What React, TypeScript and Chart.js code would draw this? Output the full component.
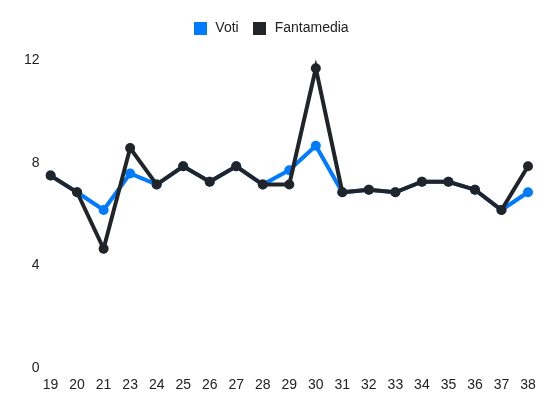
import React, { useEffect, useRef } from "react";
import { Chart, registerables } from "chart.js";

Chart.register(...registerables);

const giornate = ["19", "20", "21", "23", "24", "25", "26", "27", "28", "29", "30", "31", "32", "33", "34", "35", "36", "37", "38"];
const voti = [7.5, 6.85, 6.16, 7.58, 7.15, 7.86, 7.26, 7.86, 7.15, 7.71, 8.66, 6.85, 6.95, 6.85, 7.26, 7.26, 6.95, 6.16, 6.85];
const fantamedia = [7.5, 6.85, 4.65, 8.57, 7.15, 7.86, 7.26, 7.86, 7.15, 7.15, 11.68, 6.85, 6.95, 6.85, 7.26, 7.26, 6.95, 6.16, 7.86];
const yTicks = [0, 4, 8, 12];

const BLUE = "#007bff";
const DARK = "#212529";
const FONT = "'Liberation Sans', Arial, sans-serif";

function swatch(color: string) {
  const c = document.createElement("canvas");
  c.width = 13;
  c.height = 13;
  const ctx = c.getContext("2d");
  if (ctx) {
    ctx.fillStyle = color;
    ctx.fillRect(0, 0, 13, 13);
  }
  return c;
}

const legendMargin = {
  id: "legendMargin",
  beforeInit(chart: any) {
    const legend = chart.legend;
    if (!legend) return;
    const origFit = legend.fit;
    legend.fit = function () {
      origFit.call(this);
      this.height += 15;
    };
  },
};

export default function App() {
  const ref = useRef<HTMLCanvasElement | null>(null);
  useEffect(() => {
    document.body.style.margin = "0";
    if (!ref.current) return;
    const swatches = [swatch(BLUE), swatch(DARK)];
    const chart = new Chart(ref.current, {
      type: "line",
      data: {
        labels: giornate,
        datasets: [
          {
            label: "Voti",
            data: voti,
            borderColor: BLUE,
            backgroundColor: BLUE,
            borderWidth: 4,
            pointRadius: 5,
            pointBackgroundColor: BLUE,
            pointBorderColor: BLUE,
            pointBorderWidth: 0,
            tension: 0,
            order: 2,
          },
          {
            label: "Fantamedia",
            data: fantamedia,
            borderColor: DARK,
            backgroundColor: DARK,
            borderWidth: 4,
            pointRadius: 5,
            pointBackgroundColor: DARK,
            pointBorderColor: DARK,
            pointBorderWidth: 0,
            tension: 0,
            order: 1,
          },
        ],
      },
      plugins: [legendMargin],
      options: {
        animation: false,
        responsive: false,
        layout: { padding: { left: 13, right: 22, top: 8, bottom: 9 } },
        font: { family: FONT, size: 14 },
        plugins: {
          legend: {
            position: "top",
            labels: {
              usePointStyle: true,
              pointStyleWidth: 16,
              boxHeight: 14,
              padding: 13,
              color: "#222",
              font: { family: FONT, size: 14 },
              generateLabels: (c: any) =>
                Chart.defaults.plugins.legend.labels
                  .generateLabels(c)
                  .sort((a: any, b: any) => a.datasetIndex - b.datasetIndex)
                  .map((item: any) => ({ ...item, pointStyle: swatches[item.datasetIndex] })),
            },
          },
          tooltip: { enabled: false },
        },
        scales: {
          x: {
            grid: { display: false, drawTicks: false },
            border: { display: false },
            ticks: {
              color: "#222",
              padding: 9,
              font: { family: FONT, size: 14 },
              maxRotation: 0,
              autoSkip: false,
            },
          },
          y: {
            min: 0,
            max: 12,
            grid: { display: false, drawTicks: false },
            border: { display: false },
            afterBuildTicks: (axis: any) => {
              axis.ticks = yTicks.map((v) => ({ value: v }));
            },
            ticks: {
              color: "#222",
              padding: 11,
              font: { family: FONT, size: 14 },
            },
          },
        },
      },
    });
    return () => chart.destroy();
  }, []);
  return <canvas ref={ref} width={550} height={412} style={{ display: "block" }} />;
}
